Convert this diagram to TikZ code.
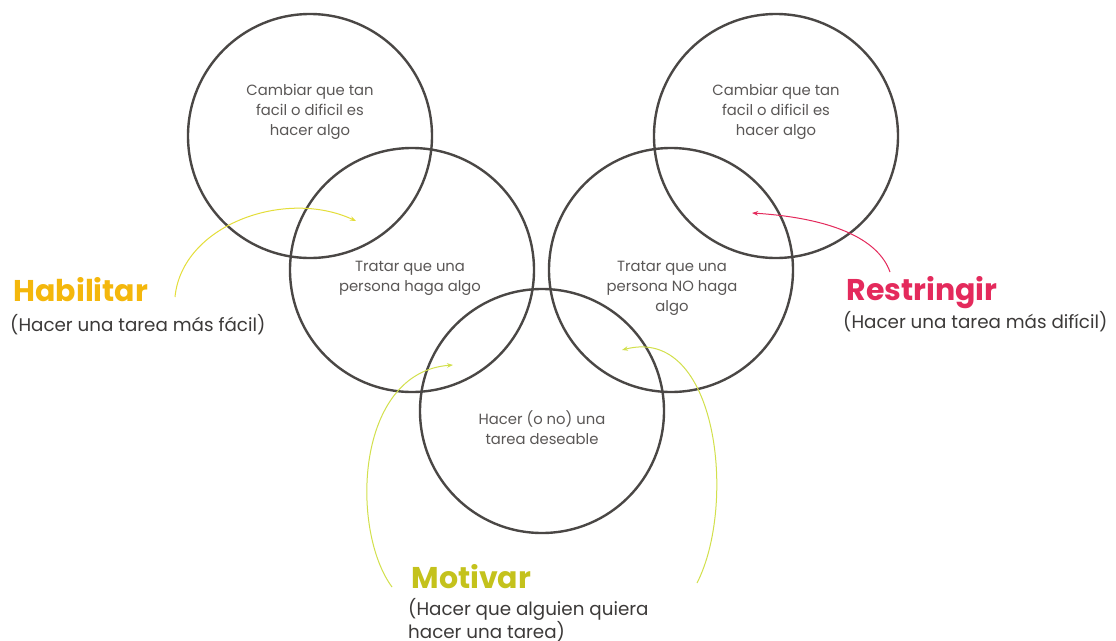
\documentclass[tikz,border=0pt]{standalone}
\usepackage{fontspec}
\setmainfont{Poppins}
\usetikzlibrary{arrows.meta}
\definecolor{ringc}{HTML}{4A4745}
\definecolor{txtc}{HTML}{5A5756}
\definecolor{subc}{HTML}{3C3A39}
\definecolor{habc}{HTML}{F4B70C}
\definecolor{habarr}{HTML}{E4DE3A}
\definecolor{resc}{HTML}{E42A5C}
\definecolor{motc}{HTML}{C4C21C}
\definecolor{motarr}{HTML}{D2E04C}
\tikzset{
  ring/.style={draw=ringc, line width=2.4pt, circle, minimum size=244pt, inner sep=0pt},
  ringtext/.style={text=txtc, align=center, font=\fontsize{14.8}{20}\selectfont},
  headline/.style={anchor=base west, font=\fontsize{30}{30}\selectfont\bfseries},
  subline/.style={anchor=north west, inner sep=0pt, text=subc, align=left, font=\fontsize{18.3}{22}\selectfont},
  tip/.style={-{Stealth[length=6pt,width=4.5pt]}, line width=1pt}
}
\begin{document}
\begin{tikzpicture}[x=1pt,y=-1pt]
\useasboundingbox[fill=white] (0,0) rectangle (1116,640);

% the five rings
\node[ring] (c1) at (310,136) {};
\node[ring] (c2) at (412,270) {};
\node[ring] (c3) at (542,411) {};
\node[ring] (c4) at (671,270) {};
\node[ring] (c5) at (776,136) {};

% texts inside the rings
\node[ringtext] (t1) at (310,112) {Cambiar que tan\\facil o dificil es\\hacer algo};
\node[ringtext] (t2) at (410,278) {Tratar que una\\persona haga algo};
\node[ringtext] (t4) at (672,288) {Tratar que una\\persona NO haga\\algo};
\node[ringtext] (t3) at (542,428) {Hacer (o no) una\\tarea deseable};
\node[ringtext] (t5) at (776,112) {Cambiar que tan\\facil o dificil es\\hacer algo};

% side labels
\node[headline, text=habc] (hab) at (10,301) {Habilitar};
\node[subline] (habsub) at (10,314) {(Hacer una tarea más fácil)};
\node[headline, text=resc] (res) at (843,300) {Restringir};
\node[subline] (ressub) at (843,311) {(Hacer una tarea más difícil)};
\node[headline, text=motc] (mot) at (408,588) {Motivar};
\node[subline] (motsub) at (408,598) {(Hacer que alguien quiera\\hacer una tarea)};

% arrow ends
\coordinate (habA) at (175,297);
\coordinate (habB) at (356,221);
\coordinate (resA) at (890,272);
\coordinate (resB) at (752,213);
\coordinate (motLA) at (392,587);
\coordinate (motLB) at (453,365);
\coordinate (motRA) at (697,583);
\coordinate (motRB) at (622,350);

% curved arrows
\draw[tip, draw=habarr] (habA) .. controls (182,225) and (285,188) .. (habB);
\draw[tip, draw=resc] (resA) .. controls (878,238) and (830,218) .. (resB);
\draw[tip, draw=motarr] (motLA) .. controls (350,530) and (355,372) .. (motLB);
\draw[tip, draw=motarr] (motRA) .. controls (737,505) and (718,325) .. (motRB);
\end{tikzpicture}
\end{document}
